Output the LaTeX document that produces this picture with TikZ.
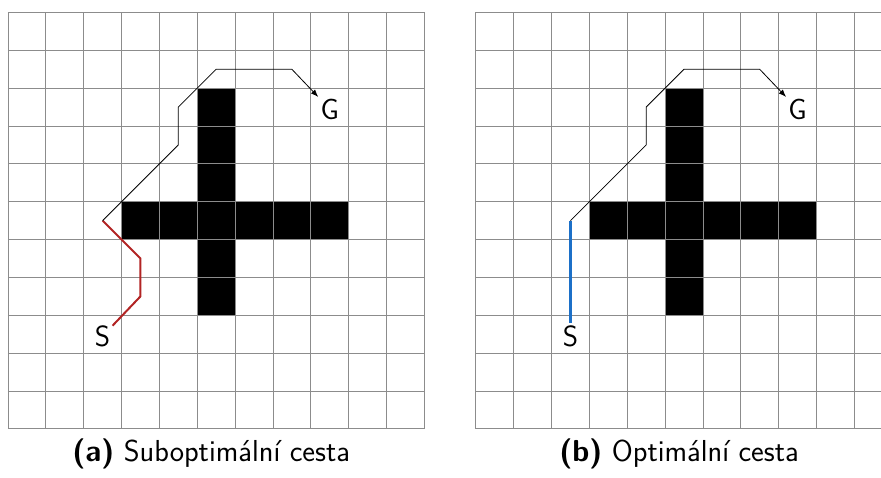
\documentclass[tikz,border=0pt]{standalone}
\usetikzlibrary{arrows.meta}
\definecolor{subred}{RGB}{178,36,36}
\definecolor{optblue}{RGB}{28,112,200}
\tikzset{
  gridline/.style={black!45, line width=0.6pt},
  wall/.style={fill=black},
  route/.style={black, line width=0.6pt, line join=round},
  badroute/.style={subred, line width=1.5pt, line join=round},
  goodroute/.style={optblue, line width=1.7pt},
  endpt/.style={font=\fontsize{22}{26}\selectfont\sffamily, inner sep=1.5pt},
  subcap/.style={font=\fontsize{22.8}{27}\selectfont\sffamily, anchor=base}
}

\begin{document}
\begin{tikzpicture}[x=1cm,y=1cm]
\useasboundingbox (-0.211,-1.295) rectangle (23.065,11.33);
\clip (-0.211,-1.295) rectangle (23.065,11.33);
% (a) suboptimal
\fill[wall] (3,5) rectangle (9,6);
\fill[wall] (5,3) rectangle (6,9);
\draw[gridline] (0,0) grid (11,11);
\node[endpt] (sa) at (2.5,2.45) {S};
\node[endpt] (ga) at (8.5,8.45) {G};
\coordinate (ka) at (2.5,5.5);
\draw[badroute] (ka) -- (3.5,4.5) -- (3.5,3.5) -- (sa);
\draw[route, -{Latex[length=2mm]}] (ka) -- (4.5,7.5) -- (4.5,8.5) -- (5.5,9.5) -- (7.5,9.5) -- (ga);
\node[subcap] (capa) at (5.37,-0.85) {\textbf{(a)} Suboptimální cesta};
% (b) optimal
\begin{scope}[xshift=12.36cm]
\fill[wall] (3,5) rectangle (9,6);
\fill[wall] (5,3) rectangle (6,9);
\draw[gridline] (0,0) grid (11,11);
\node[endpt] (sb) at (2.5,2.45) {S};
\node[endpt] (gb) at (8.5,8.45) {G};
\coordinate (kb) at (2.5,5.5);
\draw[goodroute] (kb) -- (sb);
\draw[route, -{Latex[length=2mm]}] (kb) -- (4.5,7.5) -- (4.5,8.5) -- (5.5,9.5) -- (7.5,9.5) -- (gb);
\node[subcap] (capb) at (5.37,-0.85) {\textbf{(b)} Optimální cesta};
\end{scope}
\end{tikzpicture}
\end{document}
